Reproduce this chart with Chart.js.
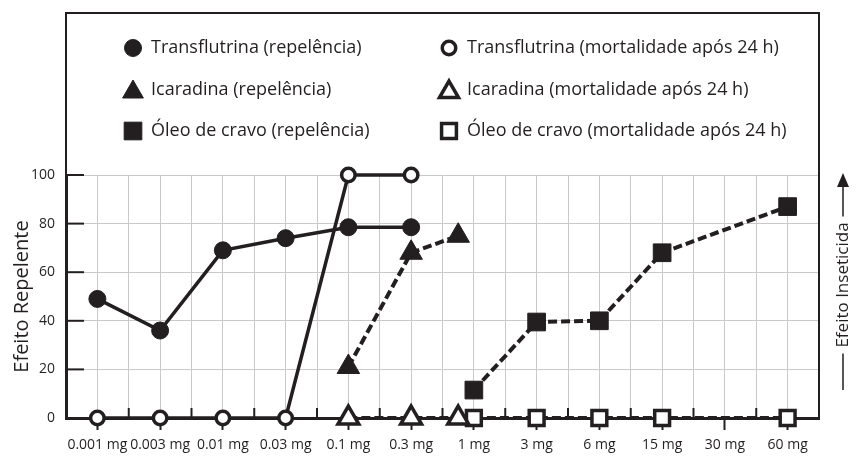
<!DOCTYPE html>
<html>
<head>
<meta charset="utf-8">
<script src="https://cdn.jsdelivr.net/npm/chart.js@4.4.1/dist/chart.umd.min.js"></script>
<style>
html, body { margin: 0; padding: 0; background: #fff; }
#wrap { width: 860px; height: 472px; }
</style>
</head>
<body>
<div id="wrap"><canvas id="chart"></canvas></div>
<script>
// data
const doses = ['0.001 mg', '0.003 mg', '0.01 mg', '0.03 mg', '0.1 mg', '0.3 mg', '1 mg', '3 mg', '6 mg', '15 mg', '30 mg', '60 mg']
const yTicks = [0, 20, 40, 60, 80, 100]

const transflutrinaRep = [49, 36, 69, 74, 78.5, 78.5, null, null, null, null, null, null]
const transflutrinaMort = [0, 0, 0, 0, 100, 100, null, null, null, null, null, null]
// icaradina's last point sits between the 0.3 mg and 1 mg marks
const icaradinaPos = [4, 5, 5.75]
const icaradinaRep = [21, 68, 75]
const icaradinaMort = [0, 0, 0]
const oleoRep = [null, null, null, null, null, null, 11.5, 39.5, 40, 68, null, 87]
const oleoMort = [null, null, null, null, null, null, 0, 0, 0, 0, null, 0]

const INK = '#231f20'
const GRID = '#c9c9c9'
const FONT = 'Open Sans'

const toPoints = (values, positions) => values
	.map((y, i) => ({ x: positions ? positions[i] : i, y }))
	.filter(p => p.y !== null)

const series = (label, data, style, radius, filled, dashed) => ({
	label,
	data,
	showLine: true,
	clip: false,
	borderColor: INK,
	borderWidth: dashed ? 4 : 3.5,
	borderDash: dashed ? [9, 4] : [],
	pointStyle: style,
	pointRadius: radius,
	pointHoverRadius: radius,
	pointBackgroundColor: filled ? INK : '#fff',
	pointBorderColor: INK,
	pointBorderWidth: filled ? 1 : 3.5,
	tension: 0
})

const datasets = [
	series('Transflutrina (mortalidade após 24 h)', toPoints(transflutrinaMort), 'circle', 6.75, false, false),
	series('Icaradina (mortalidade após 24 h)', toPoints(icaradinaMort, icaradinaPos), 'triangle', 12, false, true),
	series('Óleo de cravo (mortalidade após 24 h)', toPoints(oleoMort), 'rect', 10.5, false, true),
	series('Transflutrina (repelência)', toPoints(transflutrinaRep), 'circle', 8.5, true, false),
	series('Icaradina (repelência)', toPoints(icaradinaRep, icaradinaPos), 'triangle', 13, true, true),
	series('Óleo de cravo (repelência)', toPoints(oleoRep), 'rect', 12.5, true, true)
]

// legend order: left column repelência, right column mortalidade
const legendOrder = [3, 0, 4, 1, 5, 2]

const framePlugin = {
	id: 'frame',
	afterDraw(chart) {
		const { ctx, chartArea: a, scales } = chart
		const top = 13
		ctx.save()
		ctx.strokeStyle = INK
		ctx.lineWidth = 2
		ctx.beginPath()
		ctx.moveTo(a.left, a.top)
		ctx.lineTo(a.left, top)
		ctx.lineTo(a.right, top)
		ctx.lineTo(a.right, a.bottom)
		ctx.stroke()

		// inner ticks on the y axis
		yTicks.forEach(v => {
			const y = scales.y.getPixelForValue(v)
			ctx.beginPath()
			ctx.moveTo(a.left, y)
			ctx.lineTo(a.left + 18, y)
			ctx.stroke()
		})
		// small inner ticks between doses
		doses.forEach((d, i) => {
			if (i === doses.length - 1) return
			const x = scales.x.getPixelForValue(i + 0.5)
			ctx.beginPath()
			ctx.moveTo(x, a.bottom)
			ctx.lineTo(x, a.bottom - 10)
			ctx.stroke()
		})

		// legend
		ctx.font = `18px "${FONT}"`
		ctx.fillStyle = INK
		ctx.textBaseline = 'middle'
		const cols = [133, 449]
		const rows = [48, 90, 131]
		legendOrder.forEach((idx, k) => {
			const ds = chart.data.datasets[idx]
			const x = cols[k % 2]
			const y = rows[Math.floor(k / 2)]
			ctx.save()
			ctx.fillStyle = ds.pointBackgroundColor
			ctx.strokeStyle = ds.pointBorderColor
			ctx.lineWidth = ds.pointBorderWidth
			const tri = ds.pointStyle === 'triangle'
			Chart.helpers.drawPoint(ctx, { pointStyle: ds.pointStyle, radius: tri ? ds.pointRadius - 1 : ds.pointRadius, borderWidth: ds.pointBorderWidth, rotation: 0 }, x, y + (tri ? 2 : 0))
			ctx.restore()
			ctx.fillText(ds.label, x + 18, y)
		})

		// right side title with arrow
		ctx.save()
		ctx.translate(843, 285)
		ctx.rotate(-Math.PI / 2)
		ctx.font = `17px "${FONT}"`
		ctx.textAlign = 'center'
		ctx.textBaseline = 'middle'
		const label = 'Efeito Inseticida'
		ctx.fillText(label, 0, 0)
		const w = ctx.measureText(label).width / 2
		ctx.lineWidth = 1.5
		ctx.beginPath()
		ctx.moveTo(-105, 0)
		ctx.lineTo(-w - 6, 0)
		ctx.moveTo(w + 6, 0)
		ctx.lineTo(100, 0)
		ctx.stroke()
		ctx.beginPath()
		ctx.moveTo(112, 0)
		ctx.lineTo(98, -6)
		ctx.lineTo(98, 6)
		ctx.closePath()
		ctx.fill()
		ctx.restore()
		ctx.restore()
	}
}

new Chart(document.getElementById('chart'), {
	type: 'line',
	data: { datasets },
	options: {
		responsive: true,
		maintainAspectRatio: false,
		animation: false,
		layout: { padding: { top: 175, right: 41, left: 0, bottom: 0 } },
		plugins: {
			legend: { display: false },
			tooltip: { enabled: false }
		},
		scales: {
			x: {
				type: 'linear',
				min: -0.5,
				max: 11.5,
				afterFit: s => { s.height = 54 },
				afterBuildTicks: s => {
					s.ticks = []
					for (let v = -0.5; v <= 11.5; v += 0.5) s.ticks.push({ value: v })
				},
				ticks: {
					autoSkip: false,
					maxRotation: 0,
					padding: 7,
					color: INK,
					font: { family: FONT, size: 14 },
					callback: v => Number.isInteger(v) ? doses[v] : ''
				},
				grid: {
					color: GRID,
					lineWidth: 1,
					tickLength: 12,
					tickWidth: 2,
					tickColor: c => Number.isInteger(c.tick.value) ? INK : 'rgba(0,0,0,0)'
				},
				border: { color: INK, width: 3 }
			},
			y: {
				min: 0,
				max: 100,
				afterFit: s => { s.width = 66 },
				afterBuildTicks: s => { s.ticks = yTicks.map(v => ({ value: v })) },
				ticks: {
					padding: 11,
					color: INK,
					font: { family: FONT, size: 14 }
				},
				grid: { color: GRID, lineWidth: 1, drawTicks: false },
				border: { color: INK, width: 3 },
				title: {
					display: true,
					text: 'Efeito Repelente',
					color: INK,
					font: { family: FONT, size: 20 },
					padding: { top: 10, bottom: 0 }
				}
			}
		}
	},
	plugins: [framePlugin]
})
</script>
</body>
</html>
